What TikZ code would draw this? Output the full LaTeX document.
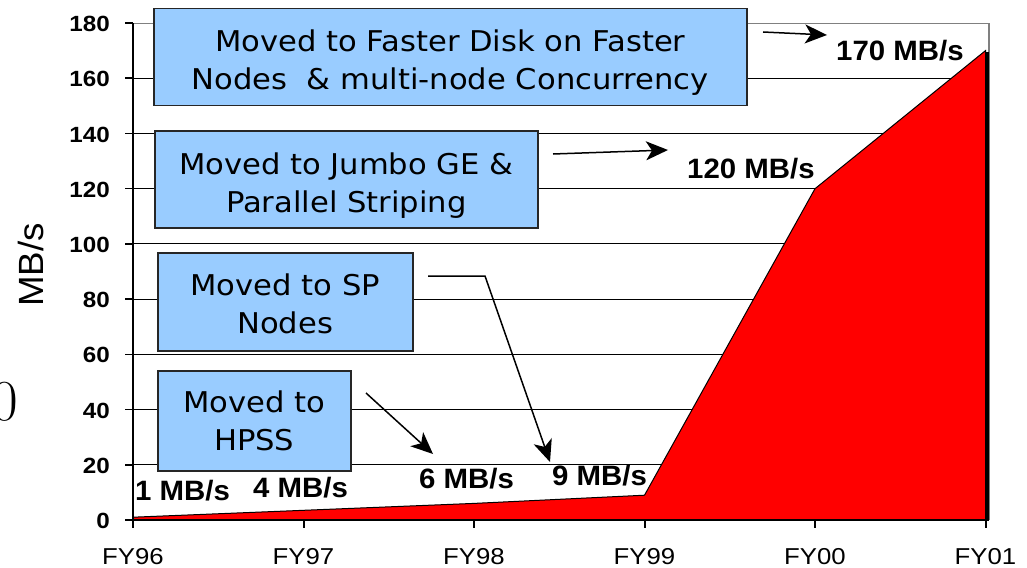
\documentclass[tikz,border=0pt]{standalone}
\usepackage{fontspec}
\newfontfamily\boxfont[FakeStretch=1.07]{DejaVu Sans}
\newfontfamily\tickfont[FakeStretch=1.1]{Liberation Sans}
\newfontfamily\fyfont[FakeStretch=1.12]{Liberation Sans}
\newfontfamily\labfont[FakeStretch=1.05]{Liberation Sans}
\usetikzlibrary{arrows.meta}
\definecolor{boxblue}{HTML}{99CCFF}
\definecolor{chartred}{HTML}{FF0000}
\definecolor{framegray}{HTML}{808080}
\tikzset{
  infobox/.style={draw=black!85, line width=1.5pt, fill=boxblue, inner sep=0pt, anchor=north west},
  boxtext/.style={align=center, font={\boxfont\fontsize{28.6}{38}\selectfont}, inner sep=0pt},
  gridline/.style={line width=1pt, black},
  axisline/.style={line width=2pt, black},
  ticklabel/.style={font={\tickfont\bfseries\fontsize{22}{24}\selectfont}, inner sep=0pt, anchor=east},
  fylabel/.style={font={\fyfont\fontsize{23}{25}\selectfont}, inner sep=0pt, anchor=base},
  mblabel/.style={font={\labfont\bfseries\fontsize{28}{30}\selectfont}, inner sep=0pt, anchor=base west},
  arr/.style={line width=1.5pt, -{Stealth[length=22pt,width=19pt,inset=6pt]}},
}
\begin{document}
\begin{tikzpicture}[x=1pt,y=-1pt]
\useasboundingbox (0,0) rectangle (1027,567);
% grid
\foreach \v in {20,40,...,160}{
  \draw[gridline] (133,{520-2.761*\v}) -- (989,{520-2.761*\v});
}
% gray frame (top and right)
\draw[framegray, line width=1.5pt] (133,23.5) -- (989,23.5) -- (989,520);
% red area
\filldraw[fill=chartred, draw=black, line width=1pt]
  (133,520) -- (133,517.2) -- (303.5,510.3) -- (474,503.4) -- (644.5,495.2)
  -- (815,188.7) -- (985.5,50.6) -- (985.5,520) -- cycle;
\draw[line width=4pt] (986.5,52) -- (986.5,521);
% axes
\draw[axisline] (133,23.5) -- (133,528);
\draw[axisline] (132,520) -- (987,520);
\foreach \v in {0,20,...,180}{
  \draw[line width=1.5pt] (125,{520-2.761*\v}) -- (133,{520-2.761*\v});
  \node[ticklabel] (t\v) at (110,{521-2.761*\v}) {\v};
}
\foreach \i/\lab in {0/FY96,1/FY97,2/FY98,3/FY99,4/FY00,5/FY01}{
  \draw[line width=2pt] ({133+170.5*\i},520) -- ({133+170.5*\i},528);
  \node[fylabel] (\lab) at ({133+170.5*\i},564) {\lab};
}
% axis title
\node[font={\labfont\fontsize{35}{37}\selectfont}, rotate=90, inner sep=0pt] (ytitle) at (31,265) {MB/s};
% stray zero at left edge
\node[font={\fontsize{58}{60}\selectfont}, anchor=base east, inner sep=0pt] (zero) at (18,420) {0};
% boxes
\node[infobox, minimum width=593pt, minimum height=97pt] (b1) at (153,8) {};
\node[boxtext] (b1t) at ([yshift=-5pt]b1.center)
  {Moved to Faster Disk on Faster\\Nodes\ \ \& multi-node Concurrency};
\node[infobox, minimum width=383pt, minimum height=97pt] (b2) at (154,130) {};
\node[boxtext] (b2t) at ([yshift=-6pt]b2.center)
  {Moved to Jumbo GE \&\\Parallel Striping};
\node[infobox, minimum width=255pt, minimum height=98pt] (b3) at (157,252) {};
\node[boxtext] (b3t) at ([yshift=-2pt]b3.center)
  {Moved to SP\\Nodes};
\node[infobox, minimum width=193pt, minimum height=100pt] (b4) at (157,370) {};
\node[boxtext] (b4t) at (b4.center)
  {Moved to\\HPSS};
% value labels
\node[mblabel] (l1) at (135,500) {1 MB/s};
\node[mblabel] (l4) at (253,497) {4 MB/s};
\node[mblabel] (l6) at (419,488) {6 MB/s};
\node[mblabel] (l9) at (552,485) {9 MB/s};
\node[mblabel] (l120) at (687,178) {120 MB/s};
\node[mblabel] (l170) at (836,61) {170 MB/s};
% arrows
\coordinate (a1s) at (763,32); \coordinate (a1e) at (827,35);
\coordinate (a2s) at (553,154); \coordinate (a2e) at (668,150);
\coordinate (a3s) at (428,276); \coordinate (a3m) at (485,276); \coordinate (a3e) at (550,462);
\coordinate (a4s) at (366,393); \coordinate (a4e) at (433,454);
\draw[arr] (a1s) -- (a1e);
\draw[arr] (a2s) -- (a2e);
\draw[arr] (a3s) -- (a3m) -- (a3e);
\draw[arr] (a4s) -- (a4e);
\end{tikzpicture}
\end{document}
